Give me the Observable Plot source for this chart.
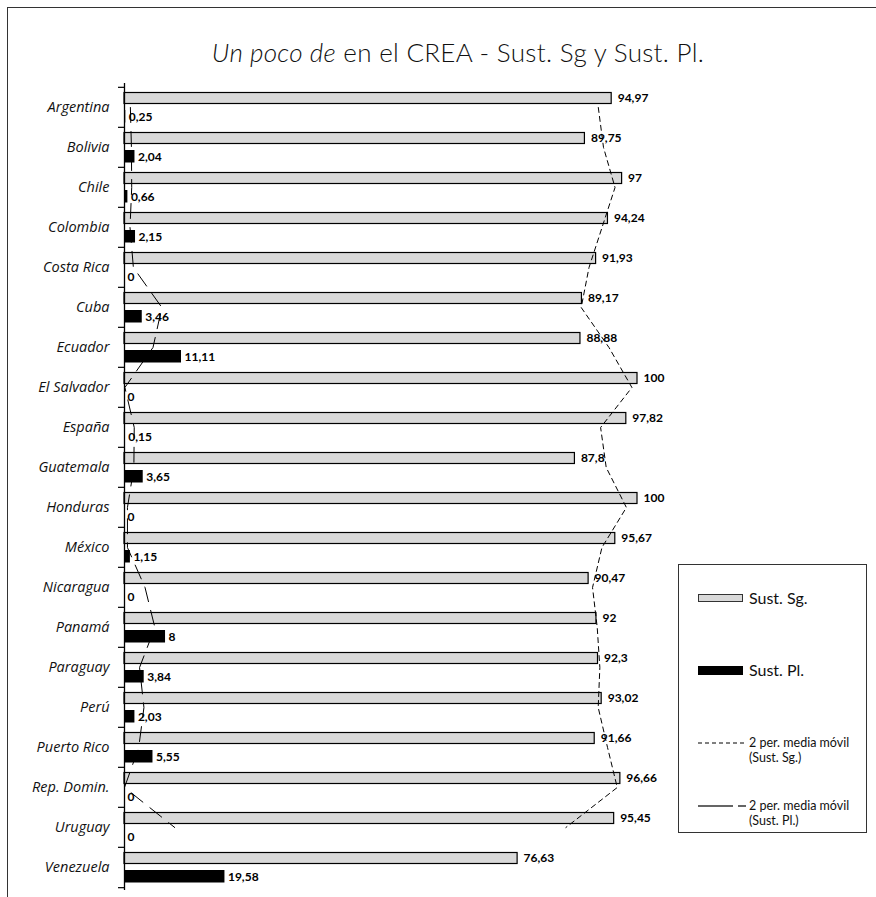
<!DOCTYPE html>
<html><head><meta charset="utf-8">
<script src="https://cdn.jsdelivr.net/npm/d3@7"></script>
<script src="https://cdn.jsdelivr.net/npm/@observablehq/plot@0.6"></script>
<style>
body{margin:0;background:#fff;font-family:Lato,"Open Sans",sans-serif;color:#111;}
#wrap{position:relative;width:876px;height:897px;overflow:hidden;background:#fff;}
#frame{position:absolute;left:7px;top:7px;width:1000px;height:1000px;border-left:1.5px solid #333;border-top:1.5px solid #333;}
#title{position:absolute;top:36px;left:0;width:916px;text-align:center;font-size:26px;font-weight:300;line-height:32px;letter-spacing:0.3px;white-space:nowrap;}
#chart{position:absolute;left:0;top:0;}
#legend{position:absolute;left:678px;top:564px;width:189px;height:269px;border:1.2px solid #333;background:#fff;box-sizing:border-box;}
.sw{position:absolute;left:19px;width:45px;box-sizing:border-box;}
.lt{position:absolute;left:70px;font-size:16px;line-height:20px;white-space:nowrap;}
.lt2{position:absolute;left:70px;font-size:12.5px;line-height:14px;white-space:nowrap;}
.ls{position:absolute;left:19px;}
</style>
</head><body>
<div id="wrap">
  <div id="frame"></div>
  <div id="chart"></div>
  <div id="title"><i>Un poco de</i> en el CREA - Sust. Sg y Sust. Pl.</div>
  <div id="legend"></div>
</div>
<script>
const countries = ["Argentina","Bolivia","Chile","Colombia","Costa Rica","Cuba","Ecuador","El Salvador","España","Guatemala","Honduras","México","Nicaragua","Panamá","Paraguay","Perú","Puerto Rico","Rep. Domin.","Uruguay","Venezuela"];
const sustSg = [94.97,89.75,97,94.24,91.93,89.17,88.88,100,97.82,87.8,100,95.67,90.47,92,92.3,93.02,91.66,96.66,95.45,76.63];
const sustPl = [0.25,2.04,0.66,2.15,0,3.46,11.11,0,0.15,3.65,0,1.15,0,8,3.84,2.03,5.55,0,0,19.58];
const seriesNames = ["Sust. Sg.","Sust. Pl.","2 per. media móvil","(Sust. Sg.)","(Sust. Pl.)"];

const data = countries.map((c,i)=>({country:c, sg:sustSg[i], pl:sustPl[i]}));
const fmt = v => String(v).replace(".", ",");
const top0 = 83, bottom0 = 890;
const band = (bottom0 - top0) / countries.length;

const chart = Plot.plot({
  width: 876, height: 897,
  marginTop: top0, marginBottom: 897 - bottom0, marginLeft: 124, marginRight: 239,
  x: {domain: [0, 100], axis: null},
  y: {domain: countries, padding: 0, axis: null},
  style: {fontFamily: "Lato, 'Open Sans', sans-serif", background: "transparent", overflow: "visible", color: "#111"},
  marks: [
    Plot.barX(data, {x: "sg", y: "country", fill: "#d9d9d9", stroke: "#000", strokeWidth: 1.2, insetTop: 5.5, insetBottom: 23.5}),
    Plot.barX(data, {x: "pl", y: "country", fill: "#000", insetTop: 23, insetBottom: 4.5}),
    Plot.ruleX([0], {stroke: "#000", strokeWidth: 1.3}),
    Plot.ruleY(countries, {y: d => d, x1: 0, x2: 0, insetLeft: -6, dy: -band/2, stroke: "#000", strokeWidth: 1.2}),
    Plot.ruleY([countries[countries.length-1]], {y: d => d, x1: 0, x2: 0, insetLeft: -6, dy: band/2, stroke: "#000", strokeWidth: 1.2}),
    Plot.text(countries, {x: 0, y: d => d, text: d => d, textAnchor: "end", dx: -15, fontSize: 14.5, fontFamily: "'Open Sans', sans-serif", fontStyle: "italic", fontWeight: 400, fill: "#111"}),
    Plot.text(data, {x: "sg", y: "country", text: d => fmt(d.sg), textAnchor: "start", dx: 6, dy: -9, fontWeight: "bold", fontSize: 12, fill: "#000"}),
    Plot.text(data, {x: "pl", y: "country", text: d => fmt(d.pl), textAnchor: "start", dx: 3, dy: 9.5, fontWeight: "bold", fontSize: 12, fill: "#000"}),
    Plot.lineX(data, Plot.windowX({k: 2, anchor: "start", strict: true}, {x: "sg", y: "country", stroke: "#000", strokeWidth: 1, strokeDasharray: "5,4"})),
    Plot.lineX(data, Plot.windowX({k: 2, anchor: "start", strict: true}, {x: "pl", y: "country", stroke: "#000", strokeWidth: 1, strokeDasharray: "15,9"}))
  ]
});
document.getElementById("chart").appendChild(chart);

const lg = document.getElementById("legend");
lg.innerHTML = `
  <div class="sw" style="top:29px;height:8px;background:#d9d9d9;border:1px solid #333"></div>
  <div class="lt" style="top:23px">${seriesNames[0]}</div>
  <div class="sw" style="top:101px;height:9px;background:#000"></div>
  <div class="lt" style="top:95px">${seriesNames[1]}</div>
  <svg class="ls" style="top:174px" width="48" height="8"><line x1="0" y1="4" x2="48" y2="4" stroke="#000" stroke-width="1" stroke-dasharray="4,3"/></svg>
  <div class="lt2" style="top:171px">${seriesNames[2]}</div>
  <div class="lt2" style="top:186px">${seriesNames[3]}</div>
  <svg class="ls" style="top:237px" width="48" height="8"><line x1="0" y1="4" x2="48" y2="4" stroke="#333" stroke-width="1.3" stroke-dasharray="35,5"/></svg>
  <div class="lt2" style="top:234px">${seriesNames[2]}</div>
  <div class="lt2" style="top:249px">${seriesNames[4]}</div>
`;
</script>
</body></html>
